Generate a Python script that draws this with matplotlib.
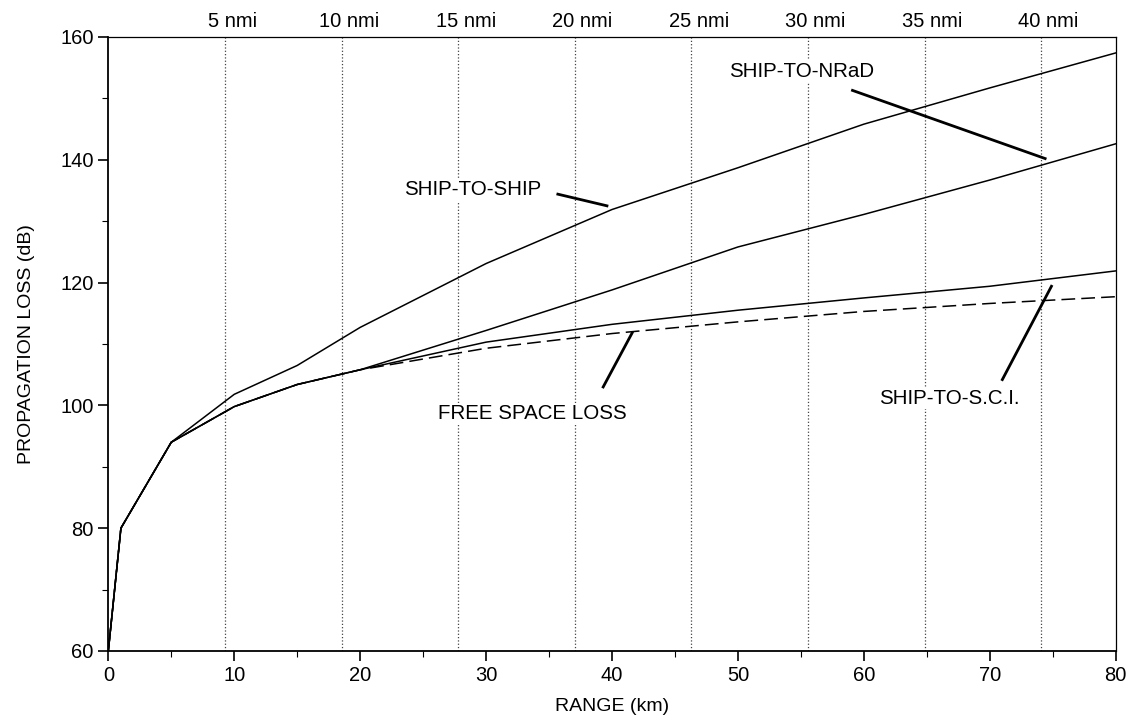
import matplotlib.pyplot as plt
from matplotlib.ticker import MultipleLocator

plt.rcParams['font.family'] = ['Liberation Sans', 'DejaVu Sans']

# range points (km)
range_km = [0, 1, 5, 10, 15, 20, 30, 40, 50, 60, 70, 80]

# propagation loss (dB)
ship_to_ship = [60, 80, 94, 101.8, 106.5, 112.7, 123.1, 131.9, 138.7, 145.8, 151.7, 157.4]
ship_to_nrad = [60, 80, 94, 99.8, 103.4, 105.8, 112.2, 118.8, 125.8, 131.1, 136.7, 142.6]
ship_to_sci = [60, 80, 94, 99.8, 103.4, 105.8, 110.3, 113.2, 115.5, 117.5, 119.4, 121.9]
free_space = [60, 80, 94, 99.8, 103.4, 105.8, 109.3, 111.7, 113.6, 115.3, 116.6, 117.7]

# nautical mile markers
nmi_marks = [5, 10, 15, 20, 25, 30, 35, 40]
KM_PER_NMI = 1.852

fig = plt.figure(figsize=(11.33, 7.28), dpi=100)
ax = fig.add_axes([0.0956, 0.1058, 0.8891, 0.8434])

# dotted nmi lines
for n in nmi_marks:
    xk = n * KM_PER_NMI
    ax.axvline(xk, color='#444444', linestyle=':', linewidth=0.9, zorder=1)
    ax.text(xk + 0.6, 1.01, f'{n} nmi', transform=ax.get_xaxis_transform(),
            ha='center', va='bottom', fontsize=14.5)

ax.plot(range_km, free_space, color='black', linewidth=1.1, dashes=(9, 4), zorder=3)
ax.plot(range_km, ship_to_sci, color='black', linewidth=1.1, zorder=3)
ax.plot(range_km, ship_to_nrad, color='black', linewidth=1.1, zorder=3)
ax.plot(range_km, ship_to_ship, color='black', linewidth=1.1, zorder=3)

# labels with leader lines
box = dict(facecolor='white', edgecolor='none', pad=1)
ax.text(23.5, 135.1, 'SHIP-TO-SHIP', fontsize=14.8, ha='left', va='center', bbox=box, zorder=2)
ax.plot([35.7, 39.6], [134.4, 132.5], color='black', linewidth=2.0, zorder=4)

ax.text(49.3, 154.4, 'SHIP-TO-NRaD', fontsize=14.8, ha='left', va='center', bbox=box, zorder=2)
ax.plot([59.1, 74.4], [151.3, 140.2], color='black', linewidth=2.0, zorder=4)

ax.text(26.2, 98.6, 'FREE SPACE LOSS', fontsize=14.8, ha='left', va='center', bbox=box, zorder=2)
ax.plot([39.3, 41.6], [103.0, 111.8], color='black', linewidth=2.0, zorder=4)

ax.text(66.8, 101.2, 'SHIP-TO-S.C.I.', fontsize=14.8, ha='center', va='center', bbox=box, zorder=2)
ax.plot([71.0, 74.9], [104.2, 119.4], color='black', linewidth=2.0, zorder=4)

ax.set_xlim(0, 80)
ax.set_ylim(60, 160)
ax.xaxis.set_major_locator(MultipleLocator(10))
ax.xaxis.set_minor_locator(MultipleLocator(5))
ax.yaxis.set_major_locator(MultipleLocator(20))
ax.yaxis.set_minor_locator(MultipleLocator(10))
ax.tick_params(which='major', direction='out', length=7, width=1.2, labelsize=14.5)
ax.tick_params(which='minor', direction='out', length=4, width=0.8)
ax.tick_params(axis='x', which='both', top=False)
ax.tick_params(axis='y', which='both', right=False)

for side in ['left', 'bottom']:
    ax.spines[side].set_linewidth(1.3)
for side in ['top', 'right']:
    ax.spines[side].set_linewidth(0.9)

ax.set_xlabel('RANGE (km)', fontsize=14, labelpad=10)
ax.set_ylabel('PROPAGATION LOSS (dB)', fontsize=14, labelpad=18)

fig.savefig('out.png', dpi=100)
